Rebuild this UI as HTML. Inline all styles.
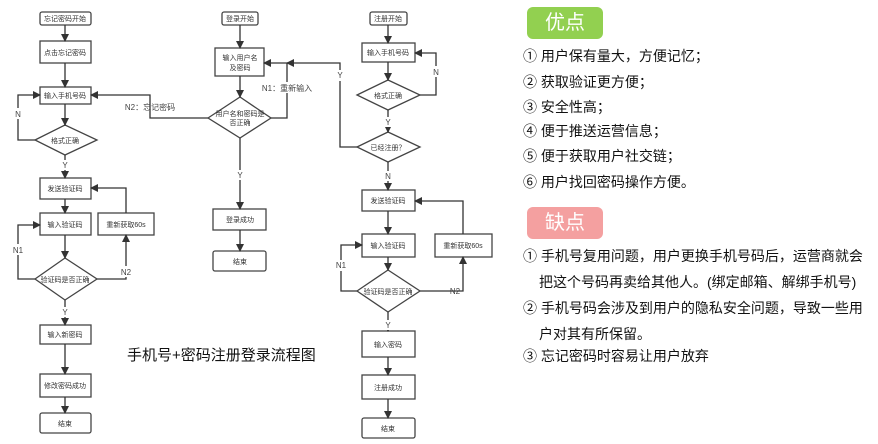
<!DOCTYPE html>
<html><head><meta charset="utf-8"><style>
body{margin:0;background:#fff;width:878px;height:444px;overflow:hidden;position:relative;font-family:"Liberation Sans","Noto Sans CJK SC",sans-serif}
.t{position:absolute;left:523px;font-size:14px;color:#111;white-space:nowrap}
.b{position:absolute;left:527px;width:76px;height:32px;border-radius:6px;color:#fff;font-size:20px;text-align:center;line-height:32px}
</style></head><body>
<svg width="878" height="444" style="position:absolute;left:0;top:0" font-family="Liberation Sans, Noto Sans CJK SC, sans-serif">
<defs><marker id="a" markerWidth="8" markerHeight="8" refX="7" refY="4" orient="auto" markerUnits="userSpaceOnUse"><path d="M0,0L8,4L0,8z" fill="#333"/></marker></defs>
<g fill="#fff" stroke="#444" stroke-width="1.3">
<rect x="40" y="12" width="51" height="13" rx="2"/>
<rect x="40" y="41" width="51" height="22"/>
<rect x="40" y="87" width="51" height="17"/>
<path d="M35,140L65,125L97,140L65,155z"/>
<rect x="40" y="178" width="51" height="21"/>
<rect x="40" y="213" width="51" height="22"/>
<rect x="98" y="213" width="56" height="22"/>
<path d="M35,279L65,258L97,279L65,300z"/>
<rect x="40" y="325" width="51" height="19"/>
<rect x="40" y="374" width="51" height="23"/>
<rect x="40" y="413" width="51" height="20" rx="2"/>
<rect x="222" y="12" width="36" height="13" rx="2"/>
<rect x="215" y="48" width="49" height="28"/>
<path d="M208,118L240,97L271,118L240,138z"/>
<rect x="213" y="209" width="53" height="21"/>
<rect x="213" y="251" width="53" height="20" rx="2"/>
<rect x="370" y="12" width="37" height="13" rx="2"/>
<rect x="362" y="43" width="53" height="19"/>
<path d="M357,95L388,80L420,95L388,110z"/>
<path d="M357,147L388,132L420,147L388,162z"/>
<rect x="362" y="190" width="53" height="21"/>
<rect x="362" y="234" width="53" height="23"/>
<rect x="435" y="234" width="57" height="23"/>
<path d="M357,291L388,270L420,291L388,312z"/>
<rect x="362" y="331" width="53" height="26"/>
<rect x="362" y="375" width="53" height="24"/>
<rect x="362" y="418" width="53" height="20" rx="2"/>
</g>
<g fill="none" stroke="#333" stroke-width="1.3" marker-end="url(#a)">
<path d="M65,25V41"/><path d="M65,63V87"/><path d="M65,104V125"/><path d="M65,155V178"/>
<path d="M65,199V213"/><path d="M65,235V258"/><path d="M65,300V325"/><path d="M65,344V374"/><path d="M65,397V413"/>
<path d="M35,140H18V95H40"/><path d="M35,279H18V225H40"/><path d="M97,279H126V235"/><path d="M126,213V188H91"/>
<path d="M240,25V48"/><path d="M240,76V97"/><path d="M240,138V209"/><path d="M240,230V251"/>
<path d="M271,118H287V63H264"/><path d="M208,118H150V95H91"/>
<path d="M388,25V43"/><path d="M388,62V80"/><path d="M388,110V132"/><path d="M388,162V190"/>
<path d="M420,95H436V53H415"/><path d="M357,147H340V63H287"/>
<path d="M388,211V234"/><path d="M388,257V270"/><path d="M388,312V331"/><path d="M388,357V375"/><path d="M388,399V418"/>
<path d="M357,291H341V245H362"/><path d="M420,291H463V257"/><path d="M463,234V201H415"/>
</g>
<g font-size="7" fill="#333" text-anchor="middle">
<text x="65" y="21">忘记密码开始</text><text x="65" y="55">点击忘记密码</text><text x="65" y="98">输入手机号码</text>
<text x="65" y="143">格式正确</text><text x="65" y="191">发送验证码</text><text x="65" y="227">输入验证码</text>
<text x="126" y="227">重新获取60s</text><text x="65" y="282">验证码是否正确</text><text x="65" y="337">输入新密码</text>
<text x="65" y="388">修改密码成功</text><text x="65" y="426">结束</text>
<text x="240" y="21">登录开始</text><text x="240" y="60">输入用户名</text><text x="240" y="70">及密码</text>
<text x="240" y="116">用户名和密码是</text><text x="240" y="125">否正确</text>
<text x="240" y="222">登录成功</text><text x="240" y="264">结束</text>
<text x="388" y="21">注册开始</text><text x="388" y="55">输入手机号码</text><text x="388" y="98">格式正确</text>
<text x="388" y="150">已经注册？</text><text x="388" y="203">发送验证码</text><text x="388" y="248">输入验证码</text>
<text x="463" y="248">重新获取60s</text><text x="388" y="294">验证码是否正确</text><text x="388" y="347">输入密码</text>
<text x="388" y="390">注册成功</text><text x="388" y="431">结束</text>
</g>
<g font-size="8" fill="#444" text-anchor="middle">
<rect x="12" y="108" width="12" height="11" fill="#fff"/><text x="18" y="117">N</text>
<rect x="60" y="160" width="10" height="10" fill="#fff"/><text x="65" y="168">Y</text>
<rect x="10" y="244" width="16" height="11" fill="#fff"/><text x="18" y="253">N1</text>
<rect x="118" y="266" width="16" height="11" fill="#fff"/><text x="126" y="275">N2</text>
<rect x="60" y="307" width="10" height="10" fill="#fff"/><text x="65" y="315">Y</text>
<rect x="235" y="170" width="10" height="10" fill="#fff"/><text x="240" y="178">Y</text>
<rect x="262" y="82" width="50" height="11" fill="#fff"/><text x="287" y="91">N1：重新输入</text>
<text x="150" y="110">N2：忘记密码</text>
<rect x="430" y="66" width="12" height="11" fill="#fff"/><text x="436" y="75">N</text>
<rect x="383" y="117" width="10" height="10" fill="#fff"/><text x="388" y="125">Y</text>
<rect x="335" y="70" width="10" height="11" fill="#fff"/><text x="340" y="78">Y</text>
<rect x="383" y="171" width="10" height="10" fill="#fff"/><text x="388" y="179">N</text>
<rect x="333" y="260" width="16" height="11" fill="#fff"/><text x="341" y="268">N1</text>
<text x="455" y="294">N2</text>
<rect x="383" y="320" width="10" height="10" fill="#fff"/><text x="388" y="328">Y</text>
</g>
<text x="127" y="360" font-size="15" fill="#111">手机号+密码注册登录流程图</text>
</svg>
<div class="b" style="top:7px;background:#92d050">优点</div>
<div class="t" style="top:46px">① 用户保有量大，方便记忆；</div>
<div class="t" style="top:72px">② 获取验证更方便；</div>
<div class="t" style="top:97px">③ 安全性高；</div>
<div class="t" style="top:121px">④ 便于推送运营信息；</div>
<div class="t" style="top:146px">⑤ 便于获取用户社交链；</div>
<div class="t" style="top:172px">⑥ 用户找回密码操作方便。</div>
<div class="b" style="top:207px;background:#f4a0a0">缺点</div>
<div class="t" style="top:246px">① 手机号复用问题，用户更换手机号码后，运营商就会</div>
<div class="t" style="top:272px;left:539px">把这个号码再卖给其他人。(绑定邮箱、解绑手机号)</div>
<div class="t" style="top:298px">② 手机号码会涉及到用户的隐私安全问题，导致一些用</div>
<div class="t" style="top:324px;left:539px">户对其有所保留。</div>
<div class="t" style="top:346px">③ 忘记密码时容易让用户放弃</div>
</body></html>
